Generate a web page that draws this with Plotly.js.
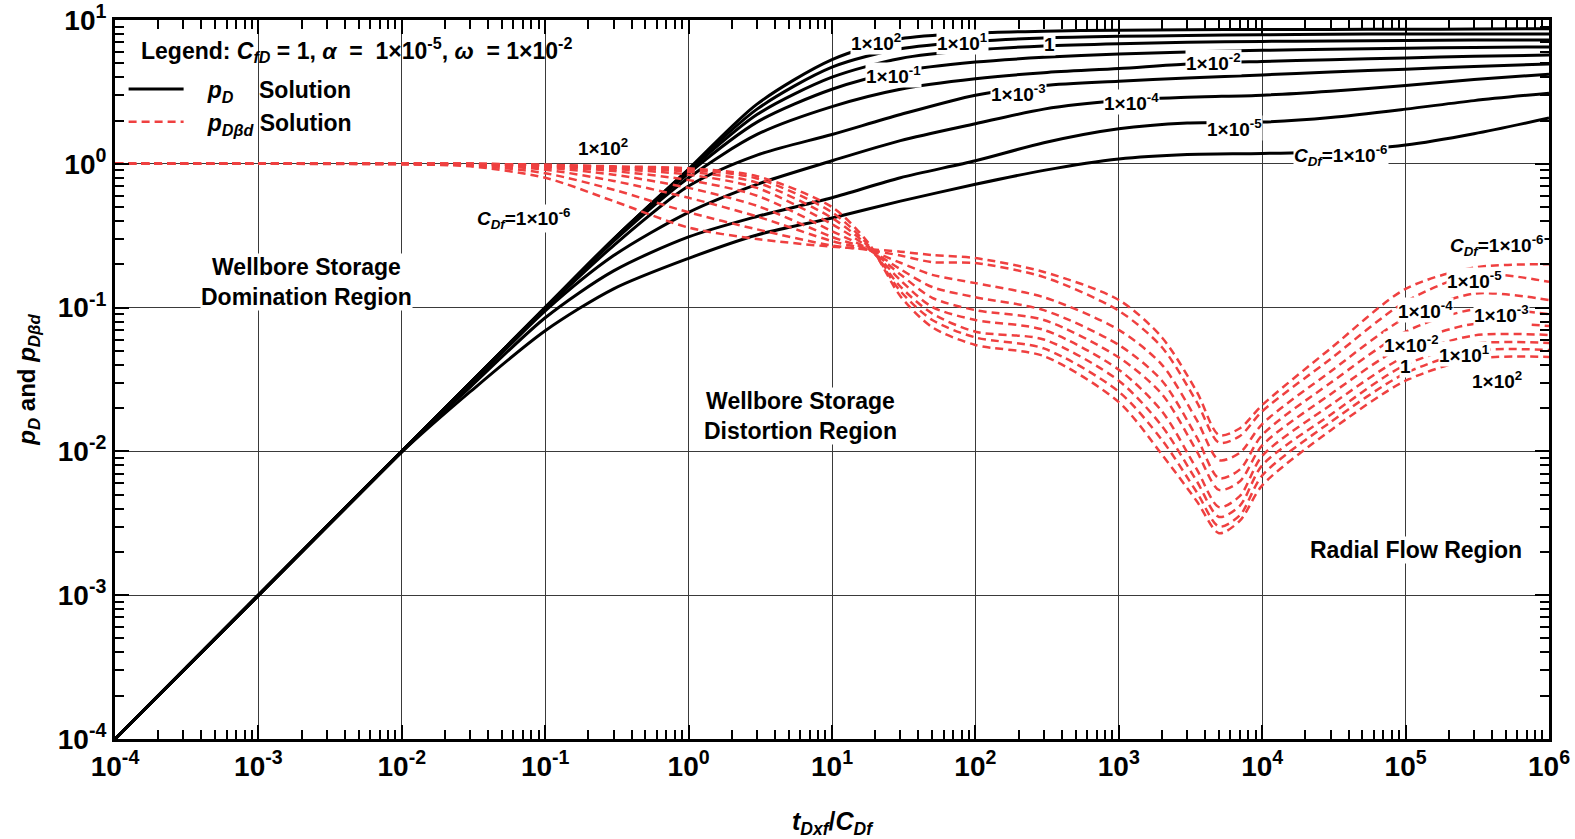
<!DOCTYPE html>
<html><head><meta charset="utf-8">
<script src="https://cdn.plot.ly/plotly-3.0.1.min.js"></script>
<style>html,body{margin:0;padding:0;background:#fff}</style>
</head><body><div id="chart" style="width:1575px;height:839px"></div>
<script>
// ---- data ----
const cdfValues = ['1e-6','1e-5','1e-4','1e-3','1e-2','1e-1','1','1e1','1e2'];

// axis tick labels
const xTickVals = [1e-4,1e-3,1e-2,1e-1,1,10,100,1e3,1e4,1e5,1e6];
const xTickText = ['10<sup>-4</sup>','10<sup>-3</sup>','10<sup>-2</sup>','10<sup>-1</sup>','10<sup>0</sup>','10<sup>1</sup>','10<sup>2</sup>','10<sup>3</sup>','10<sup>4</sup>','10<sup>5</sup>','10<sup>6</sup>'];
const yTickVals = [1e-4,1e-3,1e-2,1e-1,1,10];
const yTickText = ['10<sup>-4</sup>','10<sup>-3</sup>','10<sup>-2</sup>','10<sup>-1</sup>','10<sup>0</sup>','10<sup>1</sup>'];

// pD solution (black, solid)
const tBlack = [1e-4,1e-3,1e-2,0.03,0.1,0.3,1,3,10,30,100,300,1e3,3e3,1e4,3e4,1e5,3e5,1e6];
const pD_1em6 = [1e-4,1e-3,0.0099,0.026,0.069,0.135,0.22,0.32,0.42,0.55,0.72,0.90,1.08,1.16,1.18,1.22,1.35,1.62,2.08];
const pD_1em5 = [1e-4,1e-3,0.01,0.028,0.085,0.18,0.31,0.43,0.58,0.80,1.05,1.40,1.75,1.92,1.95,2.1,2.4,2.75,3.1];
const pD_1em4 = [1e-4,1e-3,0.01,0.029,0.095,0.23,0.46,0.72,1.05,1.45,1.9,2.4,2.75,2.9,3.0,3.2,3.5,3.85,4.2];
const pD_1em3 = [1e-4,1e-3,0.01,0.03,0.098,0.27,0.70,1.15,1.6,2.2,3.0,3.5,3.75,3.95,4.15,4.35,4.55,4.75,4.94];
const pD_1em2 = [1e-4,1e-3,0.01,0.03,0.1,0.29,0.80,1.6,2.5,3.3,3.9,4.3,4.6,4.95,5.15,5.3,5.45,5.6,5.7];
const pD_1em1 = [1e-4,1e-3,0.01,0.03,0.1,0.295,0.86,1.95,3.3,4.4,5.1,5.5,5.8,6.0,6.15,6.25,6.35,6.45,6.5];
const pD_1e0  = [1e-4,1e-3,0.01,0.03,0.1,0.3,0.89,2.2,4.0,5.4,6.2,6.6,6.85,7.0,7.1,7.15,7.2,7.25,7.26];
const pD_1e1  = [1e-4,1e-3,0.01,0.03,0.1,0.3,0.91,2.4,4.7,6.3,7.1,7.5,7.7,7.8,7.9,7.95,8.0,8.0,8.0];
const pD_1e2  = [1e-4,1e-3,0.01,0.03,0.1,0.3,0.92,2.6,5.3,7.4,8.1,8.35,8.5,8.55,8.6,8.6,8.62,8.65,8.7];

// pDβd solution (red, dashed)
const tRed = [1e-4,1e-3,1e-2,0.03,0.1,0.3,1,3,10,18,30,50,100,300,1000,2000,3500,5000,7000,1e4,3e4,1e5,3e5,1e6];
const pDbd_1em6 = [1,1,0.99,0.96,0.80,0.55,0.36,0.30,0.265,0.255,0.245,0.232,0.221,0.177,0.113,0.062,0.026,0.0130,0.0145,0.021,0.052,0.135,0.19,0.20];
const pDbd_1em5 = [1,1,0.995,0.975,0.86,0.66,0.46,0.35,0.27,0.252,0.23,0.207,0.204,0.163,0.095,0.053,0.022,0.0115,0.0128,0.019,0.044,0.11,0.17,0.151];
const pDbd_1em4 = [1,1,1,0.985,0.91,0.76,0.58,0.43,0.29,0.252,0.205,0.169,0.148,0.118,0.070,0.040,0.0165,0.0087,0.0098,0.0155,0.036,0.085,0.125,0.113];
const pDbd_1em3 = [1,1,1,0.99,0.94,0.84,0.68,0.51,0.31,0.253,0.185,0.139,0.118,0.096,0.055,0.031,0.0125,0.0065,0.0075,0.013,0.030,0.068,0.097,0.090];
const pDbd_1em2 = [1,1,1,0.995,0.96,0.89,0.77,0.60,0.34,0.255,0.17,0.117,0.096,0.082,0.045,0.025,0.010,0.0054,0.0062,0.011,0.025,0.055,0.077,0.0744];
const pDbd_1em1 = [1,1,1,1,0.97,0.92,0.84,0.68,0.38,0.26,0.155,0.101,0.082,0.070,0.037,0.019,0.0075,0.0041,0.0049,0.0093,0.021,0.046,0.064,0.0645];
const pDbd_1e0  = [1,1,1,1,0.98,0.94,0.88,0.74,0.42,0.265,0.14,0.091,0.068,0.060,0.031,0.015,0.0062,0.0035,0.0042,0.008,0.018,0.040,0.056,0.0568];
const pDbd_1e1  = [1,1,1,1,0.98,0.95,0.91,0.79,0.46,0.27,0.13,0.082,0.062,0.052,0.026,0.012,0.0052,0.0030,0.0036,0.0068,0.016,0.035,0.050,0.0507];
const pDbd_1e2  = [1,1,1,1,0.985,0.96,0.93,0.82,0.50,0.28,0.12,0.073,0.055,0.046,0.022,0.0095,0.0045,0.0027,0.0033,0.0058,0.014,0.031,0.044,0.0454];

const pDSeries = [pD_1em6,pD_1em5,pD_1em4,pD_1em3,pD_1em2,pD_1em1,pD_1e0,pD_1e1,pD_1e2];
const pDbdSeries = [pDbd_1em6,pDbd_1em5,pDbd_1em4,pDbd_1em3,pDbd_1em2,pDbd_1em1,pDbd_1e0,pDbd_1e1,pDbd_1e2];

// ---- traces ----
const traces = [];
pDSeries.forEach((ys, i) => {
  traces.push({
    x: tBlack, y: ys, type: 'scatter', mode: 'lines',
    name: '   <i>p</i><sub><i>D</i></sub>    Solution',
    legendgroup: 'pd', showlegend: i === 0,
    line: {color: '#000000', width: 3, shape: 'spline', smoothing: 0.8},
    hoverinfo: 'skip'
  });
});
pDbdSeries.forEach((ys, i) => {
  traces.push({
    x: tRed, y: ys, type: 'scatter', mode: 'lines',
    name: '   <i>p</i><sub><i>Dβd</i></sub> Solution',
    legendgroup: 'pdbd', showlegend: i === 0,
    line: {color: '#ef4040', width: 2.5, dash: '8px,5px', shape: 'spline', smoothing: 0.8},
    hoverinfo: 'skip'
  });
});

const FONT = 'Liberation Sans, Arial, Helvetica, sans-serif';
const sup = s => '1×10<sup>' + s + '</sup>';
const cdf = '<i>C</i><sub><i>Df</i></sub>=';

function lab(text, lx, ly, size) {
  return {text: text, x: lx, y: ly, xref: 'x', yref: 'y', showarrow: false,
          bgcolor: 'white', borderpad: 0,
          font: {family: FONT, size: size || 19, color: '#000', weight: 'bold'}};
}

const annotations = [
  // legend heading
  {text: 'Legend: <i>C</i><sub><i>fD</i></sub> = 1, <i>α</i>  =  1×10<sup>-5</sup>, <i>ω</i>  = 1×10<sup>-2</sup>',
   xref: 'paper', yref: 'paper', x: 0.017, y: 0.958, xanchor: 'left', yanchor: 'middle',
   showarrow: false, font: {family: FONT, size: 23, color: '#000', weight: 'bold'}},
  // black curve labels
  lab(sup('2'), 1.31, 0.85),
  lab(sup('1'), 1.91, 0.85),
  lab('1', 2.52, 0.83),
  lab(sup('-1'), 1.43, 0.62),
  lab(sup('-2'), 3.66, 0.71),
  lab(sup('-3'), 2.30, 0.49),
  lab(sup('-4'), 3.09, 0.43),
  lab(sup('-5'), 3.81, 0.25),
  lab(cdf + sup('-6'), 4.55, 0.06),
  // red curve labels, early
  lab(sup('2'), -0.60, 0.12),
  lab(cdf + sup('-6'), -1.15, -0.38),
  // red curve labels, late
  lab(cdf + sup('-6'), 5.64, -0.57),
  lab(sup('-5'), 5.48, -0.81),
  lab(sup('-4'), 5.14, -1.02),
  lab(sup('-3'), 5.67, -1.045),
  lab(sup('-2'), 5.04, -1.25),
  lab(sup('1'), 5.41, -1.32),
  lab('1', 5.0, -1.41),
  lab(sup('2'), 5.64, -1.50),
  // region labels
  lab('Wellbore Storage<br>Domination Region', -2.668, -0.822, 23),
  lab('Wellbore Storage<br>Distortion Region', 0.777, -1.754, 23),
  lab('Radial Flow Region', 5.073, -2.686, 23)
];

function minorVals(lo, hi) {
  const v = [];
  for (let d = lo; d < hi; d++) for (let m = 2; m <= 9; m++) v.push(m * Math.pow(10, d));
  return v;
}

const axisCommon = {
  type: 'log', tickmode: 'array',
  showline: true, linecolor: '#000', linewidth: 3, mirror: 'allticks',
  ticks: 'inside', ticklen: 14, tickwidth: 2, tickcolor: '#000',
  showgrid: true, gridcolor: '#3a3a3a', gridwidth: 1,
  zeroline: false,
  tickfont: {family: FONT, size: 28, color: '#000', weight: 'bold'}
};

const layout = {
  width: 1575, height: 839,
  margin: {l: 115, r: 26, t: 20, b: 100},
  paper_bgcolor: '#fff', plot_bgcolor: '#fff',
  font: {family: FONT, color: '#000'},
  showlegend: true,
  legend: {
    x: 0.006, y: 0.934, xanchor: 'left', yanchor: 'top',
    bgcolor: 'rgba(255,255,255,0)', borderwidth: 0,
    tracegroupgap: 0, itemwidth: 55,
    font: {family: FONT, size: 23, color: '#000', weight: 'bold'}
  },
  xaxis: Object.assign({}, axisCommon, {
    range: [-4, 6], tickvals: xTickVals, ticktext: xTickText,
    minor: {tickmode: 'array', tickvals: minorVals(-4, 6), ticks: 'inside', ticklen: 9, tickwidth: 2, tickcolor: '#000', showgrid: false},
    title: {text: '<i>t</i><sub><i>Dxf</i></sub>/<i>C</i><sub><i>Df</i></sub>', standoff: 33,
            font: {family: FONT, size: 25, color: '#000', weight: 'bold'}}
  }),
  yaxis: Object.assign({}, axisCommon, {
    range: [-4, 1], tickvals: yTickVals, ticktext: yTickText,
    minor: {tickmode: 'array', tickvals: minorVals(-4, 1), ticks: 'inside', ticklen: 9, tickwidth: 2, tickcolor: '#000', showgrid: false},
    title: {text: '<i>p</i><sub><i>D</i></sub> and <i>p</i><sub><i>Dβd</i></sub>', standoff: 16,
            font: {family: FONT, size: 24, color: '#000', weight: 'bold'}}
  }),
  annotations: annotations
};

Plotly.newPlot('chart', traces, layout, {displayModeBar: false, staticPlot: true});
</script></body></html>
